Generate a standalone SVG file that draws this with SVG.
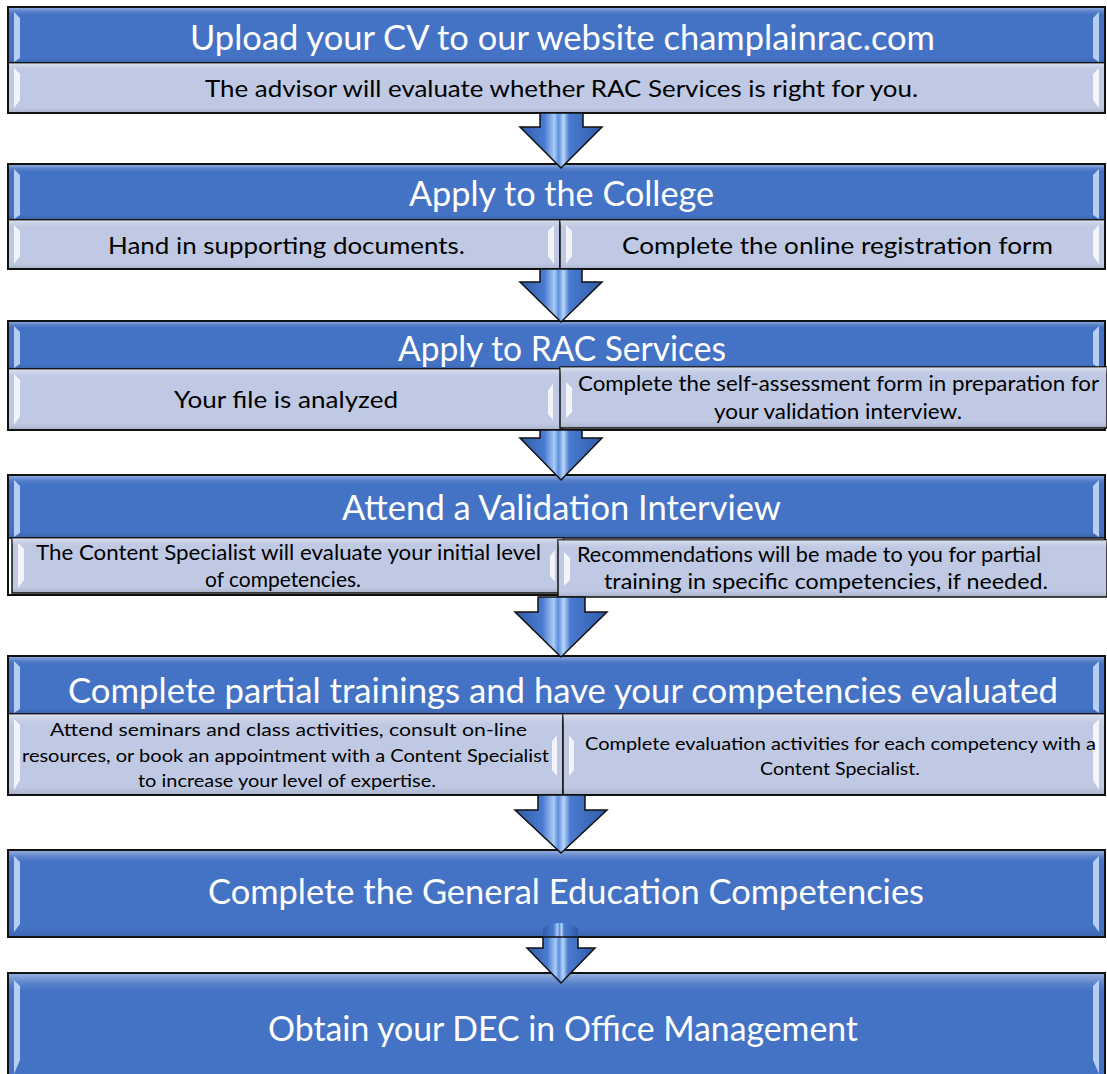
<svg xmlns="http://www.w3.org/2000/svg" width="1107" height="1074" viewBox="0 0 1107 1074">
<defs>
<linearGradient id="bevelV" x1="0" y1="0" x2="0" y2="1">
<stop offset="0" stop-color="#ffffff" stop-opacity="0.45"/>
<stop offset="0.08" stop-color="#ffffff" stop-opacity="0.12"/>
<stop offset="0.14" stop-color="#ffffff" stop-opacity="0"/>
<stop offset="0.9" stop-color="#000000" stop-opacity="0"/>
<stop offset="1" stop-color="#000000" stop-opacity="0.12"/>
</linearGradient>
<linearGradient id="arrowG" x1="0" y1="0" x2="1" y2="0">
<stop offset="0" stop-color="#2f5ba8"/>
<stop offset="0.3" stop-color="#4a7bd0"/>
<stop offset="0.42" stop-color="#a9cbf5"/>
<stop offset="0.47" stop-color="#5b8fdc"/>
<stop offset="0.53" stop-color="#b8d6fa"/>
<stop offset="0.6" stop-color="#4a7bd0"/>
<stop offset="1" stop-color="#2f5ba8"/>
</linearGradient>
<linearGradient id="headG" x1="0" y1="0" x2="0" y2="1">
<stop offset="0" stop-color="#5a88d6"/>
<stop offset="1" stop-color="#2e5aa6"/>
</linearGradient>
</defs>
<style>
.frame{fill:none;stroke:#111;stroke-width:2}
.tbar{fill:#4472c4;stroke:#111;stroke-width:1.5}
.sbar{fill:#bfc9e3;stroke:#111;stroke-width:1.5}
.bev{fill:url(#bevelV)}
.hlT{fill:#c9defa;opacity:0.85}
.hlS{fill:#ffffff;opacity:0.8}
.tt{font-family:Lato,"Liberation Sans",sans-serif;font-size:35px;fill:#ffffff;text-anchor:middle}
.st{font-family:Lato,"Liberation Sans",sans-serif;font-size:23px;fill:#000;text-anchor:middle}
.st2{font-family:Lato,"Liberation Sans",sans-serif;font-size:21px;fill:#000;text-anchor:middle}
.st3{font-family:Lato,"Liberation Sans",sans-serif;font-size:18px;fill:#000;text-anchor:middle}
.arr{stroke:#111;stroke-width:1.5;stroke-linejoin:miter}
</style>

<g id="step1">
<rect class="tbar" x="8" y="7" width="1097" height="56"/>
<rect class="bev" x="8" y="7" width="1097" height="56"/>
<path class="hlT" d="M14,12 L20,18 L20,58 L14,62 Z"/>
<path class="hlT" d="M1099,12 L1093,18 L1093,58 L1099,62 Z"/>
<rect class="sbar" x="8" y="63" width="1097" height="50"/>
<rect class="bev" x="8" y="63" width="1097" height="50"/>
<path class="hlS" d="M14,68 L20,74 L20,100 L14,108 Z"/>
<path class="hlS" d="M1099,68 L1093,74 L1093,100 L1099,108 Z"/>
<rect class="frame" x="8" y="7" width="1097" height="106"/>
<text class="tt" x="562.5" y="50" textLength="745" lengthAdjust="spacingAndGlyphs">Upload your CV to our website champlainrac.com</text>
<text class="st" x="561.5" y="97" textLength="713" lengthAdjust="spacingAndGlyphs">The advisor will evaluate whether RAC Services is right for you.</text>
</g>

<g id="step2">
<rect class="tbar" x="8" y="164" width="1097" height="56"/>
<rect class="bev" x="8" y="164" width="1097" height="56"/>
<path class="hlT" d="M14,169 L20,175 L20,215 L14,219 Z"/>
<path class="hlT" d="M1099,169 L1093,175 L1093,215 L1099,219 Z"/>
<rect class="sbar" x="8" y="220" width="552" height="49"/>
<rect class="bev" x="8" y="220" width="552" height="49"/>
<rect class="sbar" x="560" y="220" width="545" height="49"/>
<rect class="bev" x="560" y="220" width="545" height="49"/>
<path class="hlS" d="M14,225 L20,231 L20,256 L14,264 Z"/>
<path class="hlS" d="M554,225 L548,231 L548,256 L554,264 Z"/>
<path class="hlS" d="M566,225 L572,231 L572,256 L566,264 Z"/>
<path class="hlS" d="M1099,225 L1093,231 L1093,256 L1099,264 Z"/>
<rect class="frame" x="8" y="164" width="1097" height="105"/>
<text class="tt" x="561.5" y="206" textLength="305" lengthAdjust="spacingAndGlyphs">Apply to the College</text>
<text class="st" x="286.5" y="254" textLength="357" lengthAdjust="spacingAndGlyphs">Hand in supporting documents.</text>
<text class="st" x="837.5" y="254" textLength="431" lengthAdjust="spacingAndGlyphs">Complete the online registration form</text>
</g>

<g id="step3">
<rect class="tbar" x="8" y="321" width="1097" height="48"/>
<rect class="bev" x="8" y="321" width="1097" height="48"/>
<path class="hlT" d="M14,326 L20,332 L20,364 L14,368 Z"/>
<path class="hlT" d="M1099,326 L1093,332 L1093,364 L1099,368 Z"/>
<rect class="sbar" x="8" y="369" width="554" height="61"/>
<rect class="bev" x="8" y="369" width="554" height="61"/>
<path class="hlS" d="M14,374 L20,380 L20,416 L14,425 Z"/>
<path class="hlS" d="M553,384 L548,390 L548,414 L553,420 Z"/>
<rect class="frame" x="8" y="321" width="1097" height="109"/>
<rect class="sbar" x="560" y="367" width="547" height="61"/>
<rect class="bev" x="560" y="367" width="547" height="61"/>
<path class="hlS" d="M566,382 L572,388 L572,412 L566,418 Z"/>
<text class="tt" x="562" y="361" textLength="328" lengthAdjust="spacingAndGlyphs">Apply to RAC Services</text>
<text class="st" x="286" y="408" textLength="224" lengthAdjust="spacingAndGlyphs">Your file is analyzed</text>
<text class="st2" x="838.5" y="391" textLength="521" lengthAdjust="spacingAndGlyphs">Complete the self-assessment form in preparation for</text>
<text class="st2" x="838" y="419" textLength="248" lengthAdjust="spacingAndGlyphs">your validation interview.</text>
</g>

<g id="step4">
<rect class="tbar" x="8" y="475" width="1097" height="63"/>
<rect class="bev" x="8" y="475" width="1097" height="63"/>
<path class="hlT" d="M14,480 L20,486 L20,533 L14,537 Z"/>
<path class="hlT" d="M1099,480 L1093,486 L1093,533 L1099,537 Z"/>
<rect class="frame" x="8" y="475" width="1097" height="120"/>
<rect class="sbar" x="12" y="538" width="551" height="55"/>
<rect class="bev" x="12" y="538" width="551" height="55"/>
<path class="hlS" d="M18,543 L24,549 L24,580 L18,588 Z"/>
<path class="hlS" d="M555,550 L550,556 L550,576 L555,582 Z"/>
<rect class="sbar" x="558" y="540" width="549" height="57"/>
<rect class="bev" x="558" y="540" width="549" height="57"/>
<path class="hlS" d="M564,552 L570,558 L570,580 L564,586 Z"/>
<text class="tt" x="561.5" y="520" textLength="439" lengthAdjust="spacingAndGlyphs">Attend a Validation Interview</text>
<text class="st2" x="288.5" y="560" textLength="505" lengthAdjust="spacingAndGlyphs">The Content Specialist will evaluate your initial level</text>
<text class="st2" x="283" y="587" textLength="156" lengthAdjust="spacingAndGlyphs">of competencies.</text>
<text class="st2" x="809" y="562" textLength="464" lengthAdjust="spacingAndGlyphs">Recommendations will be made to you for partial</text>
<text class="st2" x="826" y="589" textLength="444" lengthAdjust="spacingAndGlyphs">training in specific competencies, if needed.</text>
</g>

<g id="step5">
<rect class="tbar" x="8" y="656" width="1097" height="58"/>
<rect class="bev" x="8" y="656" width="1097" height="58"/>
<path class="hlT" d="M14,661 L20,667 L20,709 L14,713 Z"/>
<path class="hlT" d="M1099,661 L1093,667 L1093,709 L1099,713 Z"/>
<rect class="sbar" x="8" y="714" width="555" height="81"/>
<rect class="bev" x="8" y="714" width="555" height="81"/>
<rect class="sbar" x="563" y="714" width="542" height="81"/>
<rect class="bev" x="563" y="714" width="542" height="81"/>
<path class="hlS" d="M14,719 L20,725 L20,780 L14,790 Z"/>
<path class="hlS" d="M557,735 L552,741 L552,770 L557,776 Z"/>
<path class="hlS" d="M569,735 L574,741 L574,770 L569,776 Z"/>
<path class="hlS" d="M1099,719 L1093,725 L1093,780 L1099,790 Z"/>
<rect class="frame" x="8" y="656" width="1097" height="139"/>
<text class="tt" x="563" y="703" textLength="990" lengthAdjust="spacingAndGlyphs">Complete partial trainings and have your competencies evaluated</text>
<text class="st3" x="288.5" y="736" textLength="477" lengthAdjust="spacingAndGlyphs">Attend seminars and class activities, consult on-line</text>
<text class="st3" x="285.5" y="762" textLength="527" lengthAdjust="spacingAndGlyphs">resources, or book an appointment with a Content Specialist</text>
<text class="st3" x="287" y="787" textLength="298" lengthAdjust="spacingAndGlyphs">to increase your level of expertise.</text>
<text class="st3" x="840.5" y="750" textLength="511" lengthAdjust="spacingAndGlyphs">Complete evaluation activities for each competency with a</text>
<text class="st3" x="840" y="775" textLength="160" lengthAdjust="spacingAndGlyphs">Content Specialist.</text>
</g>

<g id="step6">
<rect class="tbar" x="8" y="850" width="1097" height="87"/>
<rect class="bev" x="8" y="850" width="1097" height="87"/>
<path class="hlT" d="M14,856 L20,862 L20,924 L14,932 Z"/>
<path class="hlT" d="M1099,856 L1093,862 L1093,924 L1099,932 Z"/>
<rect class="frame" x="8" y="850" width="1097" height="87"/>
<text class="tt" x="566" y="904" textLength="716" lengthAdjust="spacingAndGlyphs">Complete the General Education Competencies</text>
</g>

<g id="step7">
<rect class="tbar" x="8" y="973" width="1097" height="110"/>
<rect class="bev" x="8" y="973" width="1097" height="130"/>
<path class="hlT" d="M14,980 L20,986 L20,1060 L14,1074 Z"/>
<path class="hlT" d="M1099,980 L1093,986 L1093,1060 L1099,1074 Z"/>
<rect class="frame" x="8" y="973" width="1097" height="110"/>
<text class="tt" x="563" y="1041" textLength="590" lengthAdjust="spacingAndGlyphs">Obtain your DEC in Office Management</text>
</g>

<g id="connectors">
<path class="arr" fill="url(#arrowG)" d="M540,113 L583,113 L583,127 L602,127 L561,168 L520,127 L540,127 Z"/>
<path class="arr" fill="url(#arrowG)" d="M540,269 L582,269 L582,282 L602,282 L561,322 L520,282 L540,282 Z"/>
<path class="arr" fill="url(#arrowG)" d="M540,430 L582,430 L582,438 L602,438 L561,480 L520,438 L540,438 Z"/>
<path class="arr" fill="url(#arrowG)" d="M538,597 L585,597 L585,612 L607,612 L561,657 L515,612 L538,612 Z"/>
<path class="arr" fill="url(#arrowG)" d="M538,795 L585,795 L585,810 L607,810 L561,853 L515,810 L538,810 Z"/>
<path fill="url(#arrowG)" d="M543,937 L543,928 Q560,918 578,928 L578,937 Z"/>
<path class="arr" fill="url(#arrowG)" d="M543,937 L578,937 L578,948 L595,948 L561,983 L527,948 L543,948 Z"/>
</g>
</svg>
